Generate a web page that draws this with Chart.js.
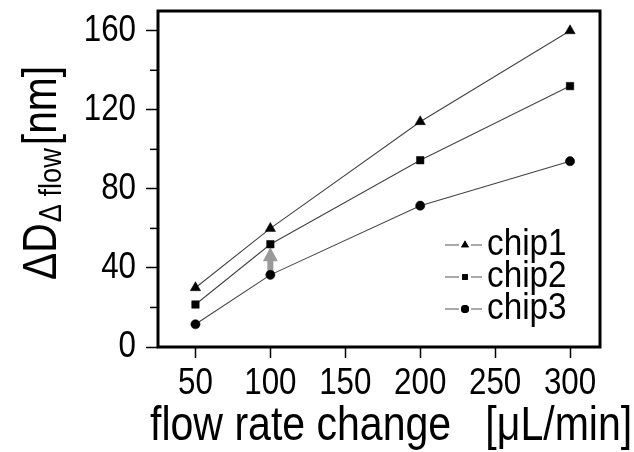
<!DOCTYPE html>
<html>
<head>
<meta charset="utf-8">
<script src="https://cdn.jsdelivr.net/npm/chart.js@4.4.1/dist/chart.umd.min.js"></script>
<style>
  html, body { margin: 0; padding: 0; background: #fff; }
  #wrap { width: 634px; height: 452px; }
</style>
</head>
<body>
<div id="wrap"><canvas id="flowChart" width="634" height="452"></canvas></div>
<script>
// data
const flowRates = [50, 100, 200, 300];
const chip1 = [30, 60, 114, 160];
const chip2 = [21.5, 52, 94.5, 132];
const chip3 = [11.5, 36.5, 71.5, 94];
const seriesNames = ['chip1', 'chip2', 'chip3'];
const xTicks = [50, 100, 150, 200, 250, 300];
const yTicks = [0, 20, 40, 60, 80, 100, 120, 140, 160];
// grey arrow at 100 uL/min, from chip3 up to chip2
const arrowX = 100;
const arrowFrom = 38;
const arrowTo = 50.5;

// the figure uses a narrow Arial; no narrow face is installed, so squeeze Arial
const FONT = 'Arial, "Liberation Sans", sans-serif';
Chart.defaults.font.family = FONT;
Chart.defaults.color = '#000';

const toPts = vals => flowRates.map((x, i) => ({ x: x, y: vals[i] }));

function narrowText(ctx, text, x, y, size, align, baseline, squeeze) {
  ctx.save();
  ctx.translate(x, y);
  ctx.scale(squeeze, 1);
  ctx.font = size + 'px ' + FONT;
  ctx.textAlign = align;
  ctx.textBaseline = baseline;
  ctx.fillStyle = '#000';
  ctx.fillText(text, 0, 0);
  const w = ctx.measureText(text).width * squeeze;
  ctx.restore();
  return w;
}

// frame, minor ticks, tick labels, arrow, legend and axis titles
const figurePlugin = {
  id: 'figure',
  beforeDatasetsDraw(chart) {
    const { ctx, chartArea: a, scales } = chart;
    ctx.save();
    // frame
    ctx.strokeStyle = '#000';
    ctx.lineWidth = 3;
    ctx.strokeRect(a.left, a.top, a.right - a.left, a.bottom - a.top);
    // minor y ticks
    ctx.lineWidth = 1.5;
    yTicks.filter(v => v % 40 !== 0).forEach(v => {
      const y = scales.y.getPixelForValue(v);
      ctx.beginPath();
      ctx.moveTo(a.left - 8, y);
      ctx.lineTo(a.left, y);
      ctx.stroke();
    });
    // tick labels
    yTicks.filter(v => v % 40 === 0).forEach(v => {
      narrowText(ctx, String(v), a.left - 22, scales.y.getPixelForValue(v), 36, 'right', 'middle', 0.87);
    });
    xTicks.forEach(v => {
      narrowText(ctx, String(v), scales.x.getPixelForValue(v), a.bottom + 37, 36, 'center', 'middle', 0.87);
    });
    // arrow
    const ax = scales.x.getPixelForValue(arrowX);
    const y0 = scales.y.getPixelForValue(arrowFrom);
    const y1 = scales.y.getPixelForValue(arrowTo);
    const headLen = 14;
    ctx.fillStyle = '#999';
    ctx.fillRect(ax - 3, y1 + headLen - 1, 6, y0 - (y1 + headLen - 1));
    ctx.beginPath();
    ctx.moveTo(ax, y1);
    ctx.lineTo(ax - 7.5, y1 + headLen);
    ctx.lineTo(ax + 7.5, y1 + headLen);
    ctx.closePath();
    ctx.fill();
    ctx.restore();
  },
  afterDraw(chart) {
    const { ctx } = chart;
    ctx.save();
    // legend
    const styles = ['triangle', 'rect', 'circle'];
    const rows = [245, 277, 309];
    rows.forEach((y, i) => {
      ctx.strokeStyle = '#555';
      ctx.lineWidth = 1;
      ctx.beginPath();
      ctx.moveTo(445, y); ctx.lineTo(459, y);
      ctx.moveTo(471, y); ctx.lineTo(482, y);
      ctx.stroke();
      ctx.fillStyle = '#000';
      Chart.helpers.drawPoint(ctx, { pointStyle: styles[i], radius: i === 0 ? 4.5 : 4, rotation: 0, borderWidth: 0 }, 465, y);
      ctx.fill();
      narrowText(ctx, seriesNames[i], 487, y + 10, 37, 'left', 'alphabetic', 0.9);
    });
    // x title
    narrowText(ctx, 'flow rate change   [\u03BCL/min]', 150, 440, 48, 'left', 'alphabetic', 0.855);
    // y title with subscript
    ctx.translate(56, 280);
    ctx.rotate(-Math.PI / 2);
    let x = 0;
    x += narrowText(ctx, '\u0394D', x, 0, 48, 'left', 'alphabetic', 0.85) + 1;
    x += narrowText(ctx, '\u0394 flow', x, 5, 32, 'left', 'alphabetic', 0.85) + 3;
    narrowText(ctx, '[nm]', x, 0, 48, 'left', 'alphabetic', 0.85);
    ctx.restore();
  }
};

new Chart(document.getElementById('flowChart'), {
  type: 'line',
  data: {
    datasets: [
      { label: seriesNames[0], data: toPts(chip1), pointStyle: 'triangle', pointRadius: 6 },
      { label: seriesNames[1], data: toPts(chip2), pointStyle: 'rect', pointRadius: 5.3 },
      { label: seriesNames[2], data: toPts(chip3), pointStyle: 'circle', pointRadius: 4.6 }
    ].map(d => Object.assign(d, {
      borderColor: '#444',
      borderWidth: 1.1,
      pointBackgroundColor: '#000',
      pointBorderColor: '#000',
      pointBorderWidth: 0.5,
      fill: false,
      tension: 0,
      clip: false
    }))
  },
  options: {
    responsive: false,
    animation: false,
    layout: { padding: { top: 11, right: 34, left: 0, bottom: 0 } },
    plugins: { legend: { display: false }, tooltip: { enabled: false } },
    scales: {
      x: {
        type: 'linear',
        min: 25,
        max: 320,
        afterBuildTicks: s => { s.ticks = xTicks.map(v => ({ value: v })); },
        afterFit: s => { s.height = 105; s.paddingLeft = 0; s.paddingRight = 0; },
        border: { display: false },
        grid: { drawOnChartArea: false, tickLength: 11, tickColor: '#000', tickWidth: 1.5 },
        ticks: { display: false }
      },
      y: {
        min: 0,
        max: 170,
        afterBuildTicks: s => { s.ticks = yTicks.map(v => ({ value: v })); },
        afterFit: s => { s.width = 158; s.paddingTop = 0; s.paddingBottom = 0; },
        border: { display: false },
        grid: {
          drawOnChartArea: false,
          tickLength: 12,
          tickWidth: 1.5,
          tickColor: c => (c.tick && c.tick.value % 40 === 0 ? '#000' : 'rgba(0,0,0,0)')
        },
        ticks: { display: false }
      }
    }
  },
  plugins: [figurePlugin]
});
</script>
</body>
</html>
